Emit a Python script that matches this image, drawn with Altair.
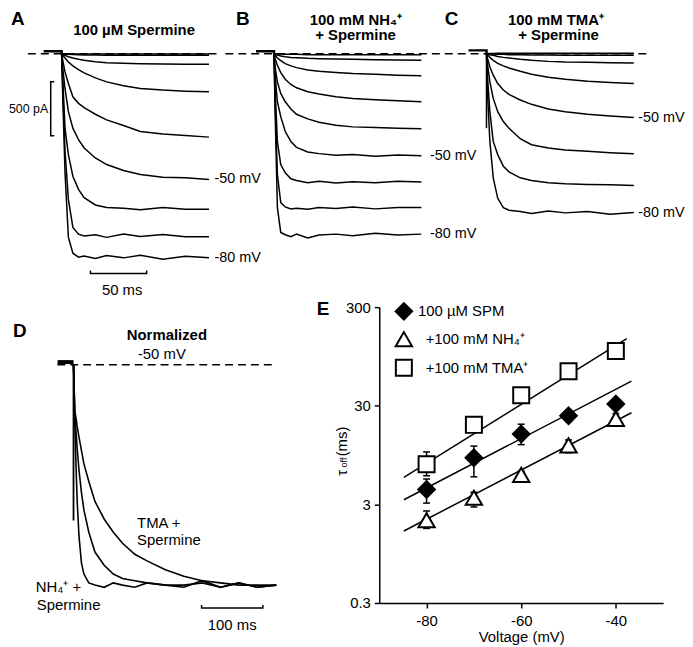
import altair as alt
import pandas as pd

FONT = "Liberation Sans"

# ---------------- Panels A-C : current traces (time in ms, current in pA) ----------------
T_ABC = [0, 1, 3, 6, 10, 15, 20, 30, 40, 55, 70, 90, 110, 131]

A_SPM = {
    "-80": [0, -400, -1100, -1700, -1849, -1886, -1874, -1898, -1871, -1892, -1868, -1905, -1877, -1892],
    "-70": [0, -322, -900, -1350, -1610, -1672, -1690, -1678, -1702, -1672, -1693, -1675, -1696, -1696],
    "-60": [0, -230, -690, -935, -1135, -1257, -1334, -1402, -1426, -1432, -1445, -1426, -1441, -1441],
    "-50": [0, -138, -322, -537, -690, -797, -874, -966, -1027, -1083, -1119, -1144, -1150, -1165],
    "-40": [0, -61, -169, -276, -399, -460, -500, -561, -613, -666, -721, -745, -758, -773],
    "-30": [0, -15, -40, -77, -113, -147, -178, -224, -261, -297, -322, -337, -347, -353],
    "-20": [0, -6, -15, -28, -40, -52, -61, -74, -83, -89, -92, -95, -98, -98],
    "-10": [0, -2, -4, -6, -8, -10, -11, -13, -14, -15, -15, -15, -15, -15],
    "0": [0, 0, -1, -1, -2, -2, -2, -3, -3, -3, -3, -3, -3, -3],
}
B_NH4 = {
    "-80": [0, -537, -1426, -1656, -1678, -1696, -1672, -1708, -1681, -1672, -1687, -1665, -1681, -1672],
    "-70": [0, -445, -1119, -1380, -1420, -1438, -1432, -1441, -1426, -1435, -1420, -1438, -1426, -1426],
    "-60": [0, -322, -813, -1027, -1104, -1159, -1175, -1196, -1181, -1199, -1187, -1196, -1181, -1190],
    "-50": [0, -199, -445, -583, -721, -813, -868, -911, -926, -942, -935, -951, -939, -945],
    "-40": [0, -123, -261, -368, -445, -512, -561, -604, -635, -662, -678, -684, -690, -696],
    "-30": [0, -46, -107, -175, -236, -285, -316, -353, -374, -399, -414, -426, -436, -445],
    "-20": [0, -15, -40, -64, -92, -113, -129, -150, -163, -175, -184, -190, -199, -205],
    "-10": [0, -6, -12, -21, -28, -34, -37, -43, -46, -49, -52, -55, -58, -61],
    "0": [0, 0, -3, -3, -6, -6, -6, -9, -9, -9, -9, -9, -9, -9],
}
C_TMA = {
    "-80": [0, -383, -813, -1150, -1340, -1426, -1451, -1463, -1481, -1457, -1475, -1463, -1487, -1472],
    "-70": [0, -230, -537, -813, -935, -1043, -1095, -1150, -1175, -1196, -1205, -1211, -1215, -1221],
    "-60": [0, -107, -261, -414, -537, -629, -690, -788, -843, -874, -892, -905, -917, -926],
    "-50": [0, -46, -123, -199, -276, -337, -377, -429, -469, -512, -537, -561, -577, -592],
    "-40": [0, -9, -34, -61, -89, -113, -132, -163, -190, -218, -236, -255, -267, -276],
    "-30": [0, -3, -9, -15, -25, -34, -40, -52, -61, -71, -77, -80, -83, -86],
    "-20": [0, 0, -3, -3, -6, -6, -9, -9, -12, -12, -15, -15, -15, -15],
    "0": [0, 2, 3, 3, 4, 4, 4, 5, 5, 5, 5, 5, 5, 5],
}
HOLD_T = -16          # start of the holding segment (ms)
HOLD_I = {"A": 22, "B": 22, "C": 31}
SPIKE_C = -690        # capacitive transient in C (pA)

# ---------------- Panel D : normalized traces at -50 mV ----------------
T_D = [0, 2, 4, 6, 9, 13, 17, 25, 35, 50, 65, 80, 100, 120, 150, 180, 210, 240, 270, 300, 331]
D_NH4 = [0, .25, .45, .62, .78, .90, .95, .99, 1.0, 1.01, .99, 1.0, 1.01, .99, 1.0, 1.01, .98, 1.01, .99, 1.01, 1.0]
D_SPM = [0, .21, .30, .38, .48, .58, .66, .76, .85, .91, .95, .97, .98, .99, 1.0, 1.0, .99, 1.01, .99, 1.01, 1.0]
D_TMA = [0, .21, .24, .28, .33, .39, .45, .53, .62, .70, .76, .81, .86, .89, .93, .96, .98, .99, 1.0, 1.0, 1.0]
D_SPIKE = 0.707
D_HOLD = [-26, 0.012]

# ---------------- Panel E : tau_off vs voltage ----------------
SERIES = ["100 µM SPM", "+100 mM NH₄⁺", "+100 mM TMA⁺"]
SHAPES = ["diamond", "triangle-up", "square"]
FILLS = ["black", "white", "white"]
VOLT = [-80, -70, -60, -50, -40]
TAU = {
    SERIES[0]: [4.24, 8.9, 15.5, 23.8, 31.2],
    SERIES[1]: [2.07, 3.5, 5.98, 11.9, 22.1],
    SERIES[2]: [7.65, 19.2, 38.4, 67.1, 108],
}
TAU_LO = {
    SERIES[0]: [3.09, 5.71, 12.1, 20.7, 28.5],
    SERIES[1]: [1.71, 2.82, 5.5, 10.0, 18.8],
    SERIES[2]: [5.85, 16.5, 33.5, 60, 98],
}
TAU_HI = {
    SERIES[0]: [5.42, 11.7, 19.5, 26.7, 34.0],
    SERIES[1]: [2.57, 3.98, 6.5, 13.5, 25.0],
    SERIES[2]: [10.2, 22.8, 44, 75, 119],
}
FIT_V = {SERIES[0]: [-84.8, -36.7], SERIES[1]: [-84.8, -36.7], SERIES[2]: [-84.8, -37.7]}
FIT_TAU = {SERIES[0]: [3.34, 53.3], SERIES[1]: [1.61, 25.5], SERIES[2]: [5.62, 143.6]}
# legend rows placed inside panel E (voltage, tau) for symbol and label
LEG_SYM_V = -84.8
LEG_TXT_V = [-81.8, -80.2, -80.2]
LEG_TAU = [272, 142, 72.7]

H_TOP = 289
YDOM_ABC = [402 - H_TOP * 9.2, 402]


def long_df(times, series, sign=1):
    rows = []
    for name, vals in series.items():
        for k, (t, v) in enumerate(zip(times, vals)):
            rows.append({"t": t, "v": sign * v, "s": name, "k": k})
    return pd.DataFrame(rows)


def enc(xdom, ydom):
    return (alt.X("t:Q", scale=alt.Scale(domain=xdom, nice=False, zero=False), axis=None),
            alt.Y("v:Q", scale=alt.Scale(domain=ydom, nice=False, zero=False), axis=None))


def txt(text, x, y, size=15, bold=False, align="left", baseline="middle", angle=0):
    kw = dict(font=FONT, fontSize=size, align=align, baseline=baseline, color="black")
    if bold:
        kw["fontWeight"] = "bold"
    if angle:
        kw["angle"] = angle
    return alt.Chart(pd.DataFrame({"s": [text]})).mark_text(**kw).encode(
        text="s:N", x=alt.value(x), y=alt.value(y))


def data_text(X, Y, rows, size=14.5, bold=False, align="left"):
    df = pd.DataFrame(rows, columns=["t", "v", "s"])
    kw = dict(font=FONT, fontSize=size, align=align, baseline="middle", color="black")
    if bold:
        kw["fontWeight"] = "bold"
    return alt.Chart(df).mark_text(**kw).encode(X, Y, text="s:N")


def path(X, Y, ts, vs, width=1.5, dash=None):
    df = pd.DataFrame({"t": ts, "v": vs, "k": list(range(len(ts)))})
    kw = dict(color="black", strokeWidth=width)
    if dash:
        kw["strokeDash"] = dash
    return alt.Chart(df).mark_line(**kw).encode(X, Y, order="k:Q")


def trace_panel(key, traces, xdom, width, dash_t, label_t, letter, letter_x, titles, extra=()):
    X, Y = enc(xdom, YDOM_ABC)
    hv = HOLD_I[key]
    layers = [
        path(X, Y, dash_t, [0, 0], 1.4, [8, 5]),
        path(X, Y, [HOLD_T, 0, 0], [hv, hv, 0], 2.5),
        alt.Chart(long_df(T_ABC, traces)).mark_line(color="black", strokeWidth=1.5).encode(
            X, Y, detail="s:N", order="k:Q"),
        data_text(X, Y, [[label_t, traces["-50"][-1], "-50 mV"], [label_t, traces["-80"][-1], "-80 mV"]]),
        txt(letter, letter_x, 0, size=19, bold=True, baseline="top"),
    ]
    for (s, x, y) in titles:
        layers.append(txt(s, x, y, size=15, bold=True, align="center"))
    for f in extra:
        layers.append(f(X, Y))
    return alt.layer(*layers).properties(width=width, height=H_TOP)


def a_extra_bars(X, Y):
    return alt.layer(
        path(X, Y, [-6.6, -9.7, -9.7, -6.6], [-260, -260, -760, -760], 1.5),
        path(X, Y, [25.6, 25.6, 75.6, 75.6], [-2008, -2036, -2036, -2008], 1.5),
        data_text(X, Y, [[-11.9, -509, "500 pA"]], size=12.5, align="right"),
        data_text(X, Y, [[53.8, -2192, "50 ms"]], size=15, align="center"),
    )


def c_extra_spike(X, Y):
    return path(X, Y, [0, 0], [0, SPIKE_C], 1.5)


panel_a = trace_panel("A", A_SPM, [-46.8, 140.3], 212, [-30, 138.6], 135.9, "A", 2,
                      [("100 µM Spermine", 126, 19.5)], extra=(a_extra_bars,))
panel_b = trace_panel("B", B_NH4, [-48.5, 151.8], 227, [-43.2, 158.9], 138.6, "B", 16.7,
                      [("100 mM NH₄⁺", 137.5, 9.5), ("+ Spermine", 137, 25)])
panel_c = trace_panel("C", C_TMA, [-37.1, 173.0], 238, [-25.6, 144.7], 135, "C", 0,
                      [("100 mM TMA⁺", 112, 9.5), ("+ Spermine", 114.5, 25)], extra=(c_extra_spike,))

# ---------------- Panel D ----------------
XD, YD = enc([-105.3, 499.0], [-1.2027, 0.2613])
d_df = long_df(T_D, {"NH4": D_NH4, "SPM": D_SPM, "TMA": D_TMA}, sign=-1)
panel_d = alt.layer(
    path(XD, YD, [-26.4, 330], [0, 0], 1.4, [8, 5]),
    path(XD, YD, [D_HOLD[0], 0], [D_HOLD[1], D_HOLD[1]], 4),
    path(XD, YD, [0, 0], [0, -D_SPIKE], 1.8),
    alt.Chart(d_df).mark_line(color="black", strokeWidth=1.6).encode(XD, YD, detail="s:N", order="k:Q"),
    path(XD, YD, [209, 209, 309, 309], [-1.0905, -1.104, -1.104, -1.0905], 1.5),
    data_text(XD, YD, [[259, -1.18, "100 ms"]], size=15, align="center"),
    data_text(XD, YD, [[152.4, 0.135, "Normalized"]], size=15, bold=True, align="center"),
    data_text(XD, YD, [[144.2, 0.05, "-50 mV"]], size=15, align="center"),
    data_text(XD, YD, [[103.7, -0.72, "TMA +"], [103.7, -0.797, "Spermine"],
                       [-61.6, -1.009, "NH₄⁺ +"], [-60, -1.09, "Spermine"]], size=15),
    txt("D", 4, 15, size=19, bold=True, baseline="top"),
).properties(width=373, height=325)

# ---------------- Panel E ----------------
pts_rows, err_rows, cap_rows, fit_rows = [], [], [], []
for s in SERIES:
    for i, v in enumerate(VOLT):
        pts_rows.append({"series": s, "V": v, "tau": TAU[s][i]})
        err_rows.append({"series": s, "V": v, "tau": TAU_LO[s][i], "tau2": TAU_HI[s][i]})
        cap_rows.append({"series": s, "V": v, "tau": TAU_LO[s][i]})
        cap_rows.append({"series": s, "V": v, "tau": TAU_HI[s][i]})
    for k in range(2):
        fit_rows.append({"series": s, "V": FIT_V[s][k], "tau": FIT_TAU[s][k], "k": k})
leg_sym = pd.DataFrame({"series": SERIES, "V": [LEG_SYM_V] * 3, "tau": LEG_TAU})
leg_txt = pd.DataFrame({"series": SERIES, "V": LEG_TXT_V, "tau": LEG_TAU})

axis_common = dict(domainColor="black", domainWidth=1.5, tickColor="black", tickWidth=1.5,
                   tickSize=5, labelColor="black", labelFont=FONT, labelFontSize=15, grid=False)
XE = alt.X("V:Q", scale=alt.Scale(domain=[-90, -30], nice=False, zero=False),
           axis=alt.Axis(values=[-80, -60, -40], labelExpr="'' + datum.value", title="Voltage (mV)",
                         titleFont=FONT, titleFontSize=15, titleFontWeight="normal", titleColor="black",
                         labelPadding=6, titlePadding=1, **axis_common))
YE = alt.Y("tau:Q", scale=alt.Scale(type="log", domain=[0.3, 300], nice=False),
           axis=alt.Axis(values=[0.3, 3, 30, 300], labelExpr="'' + datum.value", title=None,
                         labelPadding=4, **axis_common))

FILL = alt.Fill("series:N", scale=alt.Scale(domain=SERIES, range=FILLS), legend=None)
SHAPE = alt.Shape("series:N", scale=alt.Scale(domain=SERIES, range=SHAPES), legend=None)
SIZE = alt.Size("series:N", scale=alt.Scale(domain=SERIES, range=[280, 260, 245]), legend=None)
point_mark = dict(filled=True, stroke="black", strokeWidth=2, opacity=1, fillOpacity=1)

panel_e = alt.layer(
    alt.Chart(pd.DataFrame(fit_rows)).mark_line(color="black", strokeWidth=1.5).encode(
        XE, YE, detail="series:N", order="k:Q"),
    alt.Chart(pd.DataFrame(err_rows)).mark_rule(color="black", strokeWidth=1.5).encode(
        XE, YE, y2="tau2:Q"),
    alt.Chart(pd.DataFrame(cap_rows)).mark_tick(color="black", orient="horizontal", size=7,
                                                 thickness=1.5, opacity=1).encode(XE, YE),
    alt.Chart(pd.DataFrame(pts_rows)).mark_point(**point_mark).encode(XE, YE, fill=FILL, shape=SHAPE, size=SIZE),
    alt.Chart(leg_sym).mark_point(**point_mark).encode(XE, YE, fill=FILL, shape=SHAPE, size=SIZE),
    alt.Chart(leg_txt).mark_text(font=FONT, fontSize=15, align="left", baseline="middle", color="black").encode(
        XE, YE, text="series:N"),
    txt("τ", -37.7, 166.8, size=15, align="center", angle=270),
    txt("off", -35.0, 156.5, size=9, align="center", angle=270),
    txt("(ms)", -37.7, 135.3, size=15, align="center", angle=270),
    txt("E", -63, -7, size=19, bold=True, baseline="top"),
).properties(width=286, height=298)

top = alt.hconcat(panel_a, panel_b, panel_c, spacing=0, bounds="flush")
bottom = alt.hconcat(panel_d, panel_e, spacing=0, bounds="flush")
chart = alt.vconcat(top, bottom, spacing=0).properties(padding=0).configure(
    font=FONT).configure_view(stroke=None)

chart.save("out.html", embed_options={"renderer": "svg", "actions": False})
